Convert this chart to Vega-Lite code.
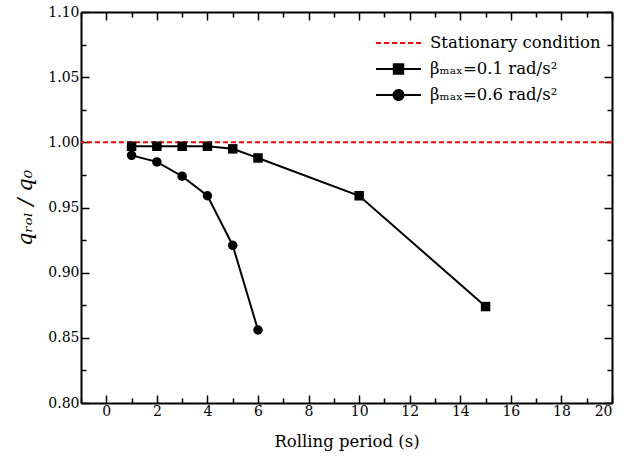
{
  "$schema": "https://vega.github.io/schema/vega-lite/v6.json",
  "width": 531,
  "height": 391,
  "autosize": "none",
  "padding": {"left": 81, "top": 12, "right": 28, "bottom": 59},
  "background": "white",
  "config": {
    "font": "DejaVu Serif",
    "view": {"stroke": null},
    "legend": {"labelFont": "DejaVu Serif"},
    "axis": {
      "domainColor": "black",
      "domainWidth": 2,
      "tickColor": "black",
      "tickWidth": 1.5,
      "labelFont": "DejaVu Serif",
      "labelFontSize": 14,
      "labelColor": "black",
      "titleFont": "DejaVu Serif",
      "titleFontSize": 16.5,
      "titleFontWeight": "normal",
      "titleColor": "black",
      "grid": false
    }
  },
  "datasets": {
    "main": [
      {"period": 1, "ratio": 0.997, "series": "βₘₐₓ=0.1 rad/s²"},
      {"period": 2, "ratio": 0.997, "series": "βₘₐₓ=0.1 rad/s²"},
      {"period": 3, "ratio": 0.997, "series": "βₘₐₓ=0.1 rad/s²"},
      {"period": 4, "ratio": 0.997, "series": "βₘₐₓ=0.1 rad/s²"},
      {"period": 5, "ratio": 0.995, "series": "βₘₐₓ=0.1 rad/s²"},
      {"period": 6, "ratio": 0.988, "series": "βₘₐₓ=0.1 rad/s²"},
      {"period": 10, "ratio": 0.959, "series": "βₘₐₓ=0.1 rad/s²"},
      {"period": 15, "ratio": 0.874, "series": "βₘₐₓ=0.1 rad/s²"},
      {"period": 1, "ratio": 0.990, "series": "βₘₐₓ=0.6 rad/s²"},
      {"period": 2, "ratio": 0.985, "series": "βₘₐₓ=0.6 rad/s²"},
      {"period": 3, "ratio": 0.974, "series": "βₘₐₓ=0.6 rad/s²"},
      {"period": 4, "ratio": 0.959, "series": "βₘₐₓ=0.6 rad/s²"},
      {"period": 5, "ratio": 0.921, "series": "βₘₐₓ=0.6 rad/s²"},
      {"period": 6, "ratio": 0.856, "series": "βₘₐₓ=0.6 rad/s²"}
    ],
    "ref": [
      {"ratio": 1.0, "series": "Stationary condition"}
    ]
  },
  "resolve": {"axis": {"x": "independent", "y": "independent"}},
  "layer": [
    {
      "data": {"name": "ref"},
      "mark": {"type": "rule", "strokeDash": [5, 3], "strokeWidth": 2},
      "encoding": {
        "y": {
          "field": "ratio", "type": "quantitative",
          "scale": {"domain": [0.8, 1.1], "nice": false, "zero": false},
          "axis": {
            "orient": "left",
            "title": "qᵣₒₗ / q₀",
            "titleFontStyle": "italic",
            "titleFontSize": 21,
            "titlePadding": 12,
            "values": [0.8, 0.825, 0.85, 0.875, 0.9, 0.925, 0.95, 0.975, 1.0, 1.025, 1.05, 1.075, 1.1],
            "labelExpr": "round(datum.value*1000) % 50 === 0 ? format(datum.value, '.2f') : ''",
            "tickSize": {"condition": {"test": "round(datum.value*1000) % 50 === 0", "value": -8}, "value": -5},
            "labelPadding": 10
          }
        },
        "color": {
          "field": "series", "type": "nominal",
          "scale": {
            "domain": ["Stationary condition", "βₘₐₓ=0.1 rad/s²", "βₘₐₓ=0.6 rad/s²"],
            "range": ["#ff0000", "#000000", "#000000"]
          },
          "legend": {
            "orient": "none",
            "legendX": 294,
            "legendY": 20,
            "title": null,
            "padding": 0,
            "symbolSize": 400,
            "labelFont": "DejaVu Serif",
            "labelFontSize": 16.5,
            "labelLimit": 400,
            "labelColor": "black",
            "labelOffset": 33,
            "rowPadding": 6,
            "encode": {
              "symbols": {
                "update": {
                  "shape": [
                    {"test": "datum.value === 'Stationary condition'", "value": "M-1,0H3.5"},
                    {"test": "indexof(datum.value, '0.1') >= 0", "value": "M-1,0H3.5M0.78,-0.47H1.72V0.47H0.78Z"},
                    {"value": "M-1,0H3.5M0.75,0A0.5,0.5 0 1,0 1.75,0A0.5,0.5 0 1,0 0.75,0Z"}
                  ],
                  "strokeDash": [
                    {"test": "datum.value === 'Stationary condition'", "value": [5, 3]},
                    {"value": [1, 0]}
                  ],
                  "stroke": [
                    {"test": "datum.value === 'Stationary condition'", "value": "#ff0000"},
                    {"value": "#000000"}
                  ],
                  "fill": [
                    {"test": "datum.value === 'Stationary condition'", "value": "transparent"},
                    {"value": "#000000"}
                  ],
                  "strokeWidth": {"value": 2},
                  "size": {"value": 400},
                  "opacity": {"value": 1}
                }
              }
            }
          }
        }
      }
    },
    {
      "data": {"name": "main"},
      "mark": {"type": "line", "strokeWidth": 2},
      "encoding": {
        "x": {
          "field": "period", "type": "quantitative",
          "scale": {"domain": [-1, 20], "nice": false, "zero": false},
          "axis": {
            "orient": "bottom",
            "title": "Rolling period (s)",
            "titlePadding": 15,
            "values": [-1, 0, 1, 2, 3, 4, 5, 6, 7, 8, 9, 10, 11, 12, 13, 14, 15, 16, 17, 18, 19, 20],
            "labelExpr": "datum.value % 2 === 0 ? datum.label : ''",
            "tickSize": {"condition": {"test": "datum.value % 2 === 0", "value": -8}, "value": -5},
            "labelPadding": 9
          }
        },
        "y": {"field": "ratio", "type": "quantitative", "axis": null},
        "color": {"field": "series", "type": "nominal"},
        "detail": {"field": "series"}
      }
    },
    {
      "data": {"name": "main"},
      "mark": {"type": "point", "filled": true, "opacity": 1},
      "encoding": {
        "x": {
          "field": "period", "type": "quantitative",
          "axis": {
            "orient": "top",
            "title": null,
            "values": [-1, 0, 1, 2, 3, 4, 5, 6, 7, 8, 9, 10, 11, 12, 13, 14, 15, 16, 17, 18, 19, 20],
            "labels": false,
            "tickSize": {"condition": {"test": "datum.value % 2 === 0", "value": -8}, "value": -5}
          }
        },
        "y": {
          "field": "ratio", "type": "quantitative",
          "axis": {
            "orient": "right",
            "title": null,
            "values": [0.8, 0.825, 0.85, 0.875, 0.9, 0.925, 0.95, 0.975, 1.0, 1.025, 1.05, 1.075, 1.1],
            "labels": false,
            "tickSize": {"condition": {"test": "round(datum.value*1000) % 50 === 0", "value": -8}, "value": -5}
          }
        },
        "color": {"field": "series", "type": "nominal"},
        "shape": {
          "field": "series", "type": "nominal",
          "scale": {"domain": ["βₘₐₓ=0.1 rad/s²", "βₘₐₓ=0.6 rad/s²"], "range": ["square", "circle"]},
          "legend": null
        },
        "size": {"value": 90}
      }
    }
  ]
}
